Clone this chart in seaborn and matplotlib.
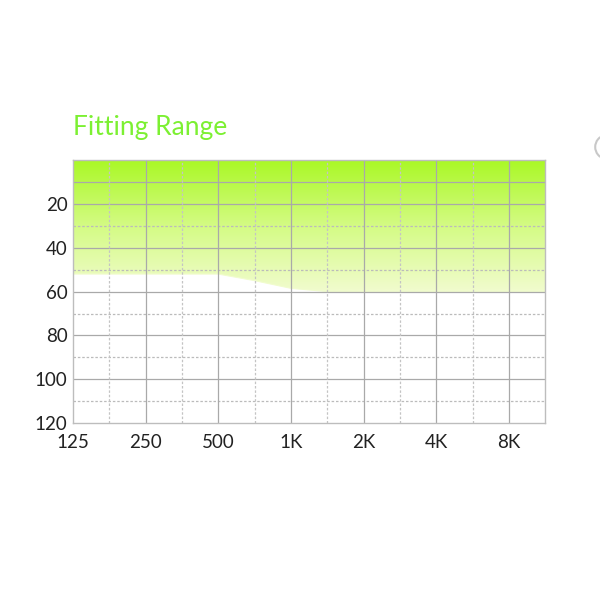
import numpy as np
import pandas as pd
import matplotlib
matplotlib.use("Agg")
import matplotlib.pyplot as plt
from matplotlib.colors import LinearSegmentedColormap
from matplotlib.patches import Arc
import seaborn as sns

# Chart data
freqs = [125, 250, 500, 707, 1000, 1414, 2000, 4000, 8000, 11314]
range_db = [52, 52, 52, 55, 58.5, 60, 60, 60, 60, 60]
tick_freqs = [125, 250, 500, 1000, 2000, 4000, 8000]
tick_labels = ["125", "250", "500", "1K", "2K", "4K", "8K"]
half_octaves = [177, 354, 707, 1414, 2828, 5657]
db_ticks = [20, 40, 60, 80, 100, 120]
db_solid = [10, 20, 40, 60, 80, 100]
db_dashed = [30, 50, 70, 90, 110]

sns.set_theme(style="white")
plt.rcParams['font.family'] = ['Lato', 'DejaVu Sans']

df = pd.DataFrame({"freq": freqs, "db": range_db})

fig = plt.figure(figsize=(6, 6), dpi=100)
ax = fig.add_axes([0.1217, 0.295, 0.787, 0.438])
ax.set_xscale("log")
ax.set_xlim(125, 11314)
ax.set_ylim(120, 0)

# gradient fill from top down to the fitting range curve
cmap = LinearSegmentedColormap.from_list("fit", ["#aaf826", "#d4fb84", "#f1fcce"])
grad = np.linspace(0, 1, 256).reshape(-1, 1)
img = ax.imshow(grad, cmap=cmap, extent=(125, 11314, 60, 0), aspect="auto",
                zorder=0, interpolation="bilinear")
poly = ax.fill_between(df["freq"], 0, df["db"], color="none", lw=0)
img.set_clip_path(poly.get_paths()[0], transform=ax.transData)
sns.lineplot(data=df, x="freq", y="db", ax=ax, color="#f1fcce", lw=0.8, zorder=1)

# grid
for d in db_solid:
    ax.axhline(d, color="#a9a9a9", lw=0.9, zorder=2)
for d in db_dashed:
    ax.axhline(d, color="#bbbbbb", lw=0.9, ls=(0, (2, 1.5)), zorder=2)
for f in tick_freqs[1:]:
    ax.axvline(f, color="#a9a9a9", lw=0.9, zorder=2)
for f in half_octaves:
    ax.axvline(f, color="#c4c4c4", lw=0.9, ls=(0, (2, 1.5)), zorder=2)

ax.set_xticks(tick_freqs)
ax.set_xticklabels(tick_labels)
ax.minorticks_off()
ax.set_yticks(db_ticks)
ax.tick_params(axis="both", length=0, labelsize=13.5, colors="#222222")
ax.tick_params(axis="x", pad=8)
ax.tick_params(axis="y", pad=4)
ax.set_xlabel("")
ax.set_ylabel("")
for s in ax.spines.values():
    s.set_color("#bdbdbd")
    s.set_linewidth(1)

fig.text(0.1217, 0.787, "Fitting Range", color="#7cf032", fontsize=19,
         ha="left", va="center")

# faint circle edge at top right
fig.patches.append(Arc((1.012, 0.755), 0.04, 0.04, theta1=100, theta2=260,
                       transform=fig.transFigure, color="#c8c8c8", lw=1.5))

fig.savefig("out.png", dpi=100, facecolor="white")
